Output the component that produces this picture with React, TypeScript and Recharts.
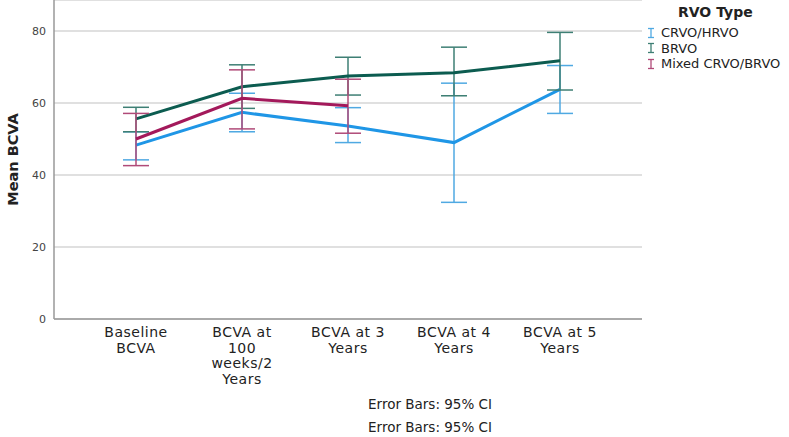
import { ComposedChart, Line, ErrorBar, XAxis, YAxis, CartesianGrid } from 'recharts'

const CATEGORIES = ['Baseline BCVA', 'BCVA at 100 weeks/2 Years', 'BCVA at 3 Years', 'BCVA at 4 Years', 'BCVA at 5 Years']
const TICK_LINES = [['Baseline', 'BCVA'], ['BCVA at', '100', 'weeks/2', 'Years'], ['BCVA at 3', 'Years'], ['BCVA at 4', 'Years'], ['BCVA at 5', 'Years']]
const Y_TICKS = [0, 20, 40, 60, 80]

// means and 95% CI bounds
const CRVO_MEAN = [48.3, 57.4, 53.6, 49.0, 63.8]
const CRVO_LOW = [44.2, 52.0, 49.0, 32.4, 57.1]
const CRVO_HIGH = [52.0, 62.7, 58.7, 65.5, 70.4]
const BRVO_MEAN = [55.6, 64.5, 67.5, 68.4, 71.7]
const BRVO_LOW = [52.0, 58.5, 62.2, 62.0, 63.6]
const BRVO_HIGH = [58.8, 70.6, 72.7, 75.5, 79.6]
const MIXED_MEAN = [50.0, 61.3, 59.2, null, null]
const MIXED_LOW = [42.6, 52.8, 51.6, null, null]
const MIXED_HIGH = [57.1, 69.2, 66.6, null, null]

const SERIES = [
  { key: 'crvo', name: 'CRVO/HRVO', line: '#1f96e6', bar: '#4fa9e2' },
  { key: 'brvo', name: 'BRVO', line: '#0c5c50', bar: '#3e7f74' },
  { key: 'mixed', name: 'Mixed CRVO/BRVO', line: '#a3195b', bar: '#b04a78' },
]

const err = (m: number | null, lo: number | null, hi: number | null) =>
  m == null || lo == null || hi == null ? null : [m - lo, hi - m]

const data = CATEGORIES.map((name, i) => ({
  name,
  crvo: CRVO_MEAN[i],
  crvoErr: err(CRVO_MEAN[i], CRVO_LOW[i], CRVO_HIGH[i]),
  brvo: BRVO_MEAN[i],
  brvoErr: err(BRVO_MEAN[i], BRVO_LOW[i], BRVO_HIGH[i]),
  mixed: MIXED_MEAN[i],
  mixedErr: err(MIXED_MEAN[i], MIXED_LOW[i], MIXED_HIGH[i]),
}))

const FONT = '"DejaVu Sans", sans-serif'

function XTick({ x, y, index }: any) {
  const lines = TICK_LINES[index] || []
  return (
    <text x={x} y={y} textAnchor="middle" fontSize={14} letterSpacing={0.5} fill="#222" fontFamily={FONT}>
      {lines.map((l, i) => (
        <tspan key={i} x={x} dy={i === 0 ? 10 : 15.7}>
          {l}
        </tspan>
      ))}
    </text>
  )
}

function LegendBox() {
  return (
    <div style={{ position: 'absolute', left: 646, top: 4, width: 143, fontFamily: FONT, color: '#222' }}>
      <div style={{ fontWeight: 'bold', fontSize: 14, marginLeft: 32, marginBottom: 5 }}>RVO Type</div>
      {SERIES.map((s) => (
        <div key={s.key} style={{ display: 'flex', alignItems: 'center', fontSize: 13, height: 15.5 }}>
          <svg width={10} height={12} style={{ marginRight: 5 }}>
            <line x1={2} y1={1.5} x2={8} y2={1.5} stroke={s.bar} strokeWidth={1.3} />
            <line x1={5} y1={1.5} x2={5} y2={10.5} stroke={s.bar} strokeWidth={1.3} />
            <line x1={2} y1={10.5} x2={8} y2={10.5} stroke={s.bar} strokeWidth={1.3} />
          </svg>
          {s.name}
        </div>
      ))}
    </div>
  )
}

export default function App() {
  return (
    <div style={{ position: 'absolute', left: 0, top: 0, width: 789, height: 437, background: '#fff' }}>
      <ComposedChart width={789} height={437} data={data} margin={{ top: 0, right: 147, bottom: 0, left: 0 }}>
        <CartesianGrid vertical={false} stroke="#d6d6d6" strokeWidth={1.5} />
        <XAxis
          dataKey="name"
          interval={0}
          height={118}
          tickLine={false}
          tick={<XTick />}
          padding={{ left: 82, right: 82 }}
          axisLine={{ stroke: '#999', strokeWidth: 1.5 }}
        />
        <YAxis
          width={54}
          domain={[0, 88.6]}
          ticks={Y_TICKS}
          tickLine={false}
          axisLine={{ stroke: '#999', strokeWidth: 1.5 }}
          tick={{ fontSize: 11, fill: '#444', fontFamily: FONT }}
          label={{
            value: 'Mean BCVA',
            angle: -90,
            position: 'center',
            dx: -14,
            style: { fontSize: 14.5, fontWeight: 'bold', fill: '#222', fontFamily: FONT },
          }}
        />
        {SERIES.map((s) => (
          <Line
            key={s.key}
            dataKey={s.key}
            name={s.name}
            stroke={s.line}
            strokeWidth={3}
            dot={false}
            activeDot={false}
            isAnimationActive={false}
          >
            <ErrorBar dataKey={`${s.key}Err`} width={13} stroke={s.bar} strokeWidth={1.5} isAnimationActive={false} />
          </Line>
        ))}
      </ComposedChart>
      <LegendBox />
      {[396, 419].map((top) => (
        <div
          key={top}
          style={{
            position: 'absolute',
            top,
            left: 330,
            width: 200,
            textAlign: 'center',
            fontSize: 13.5,
            fontFamily: FONT,
            color: '#222',
          }}
        >
          Error Bars: 95% CI
        </div>
      ))}
    </div>
  )
}
